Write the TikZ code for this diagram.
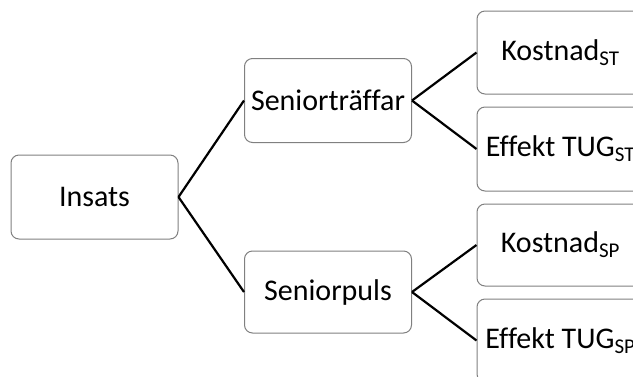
\documentclass[tikz,border=0pt]{standalone}
\usepackage{fontspec}
\setmainfont[Ligatures=NoCommon]{Carlito}
\begin{document}
\begin{tikzpicture}[x=1pt,y=-1pt,
  box/.style={draw={rgb,255:red,128;green,128;blue,128}, fill=white, rounded corners=8pt,
    minimum width=167pt, minimum height=84pt, line width=1pt, inner sep=0pt,
    font=\fontsize{30}{36}\selectfont},
  conn/.style={line width=2.2pt, black}]
\useasboundingbox (0,0) rectangle (633,376);
\clip (0,0) rectangle (633,376);
\node[box] (ins) at (94.5,197) {Insats};
\node[box] (st) at (328,100.5) {Seniorträffar};
\node[box, minimum height=82pt] (sp) at (328,292) {Seniorpuls};
\node[box, minimum height=83pt] (k1) at (560.5,52.5) {Kostnad\textsubscript{ST}};
\node[box] (e1) at (560.5,149) {Effekt TUG\textsubscript{ST}};
\node[box, minimum height=82pt] (k2) at (560.5,245) {Kostnad\textsubscript{SP}};
\node[box, minimum height=83pt] (e2) at (560.5,340.5) {Effekt TUG\textsubscript{SP}};
\draw[conn] (ins.east) -- (st.west);
\draw[conn] (ins.east) -- (sp.west);
\draw[conn] (st.east) -- (k1.west);
\draw[conn] (st.east) -- (e1.west);
\draw[conn] (sp.east) -- (k2.west);
\draw[conn] (sp.east) -- (e2.west);
\end{tikzpicture}
\end{document}
